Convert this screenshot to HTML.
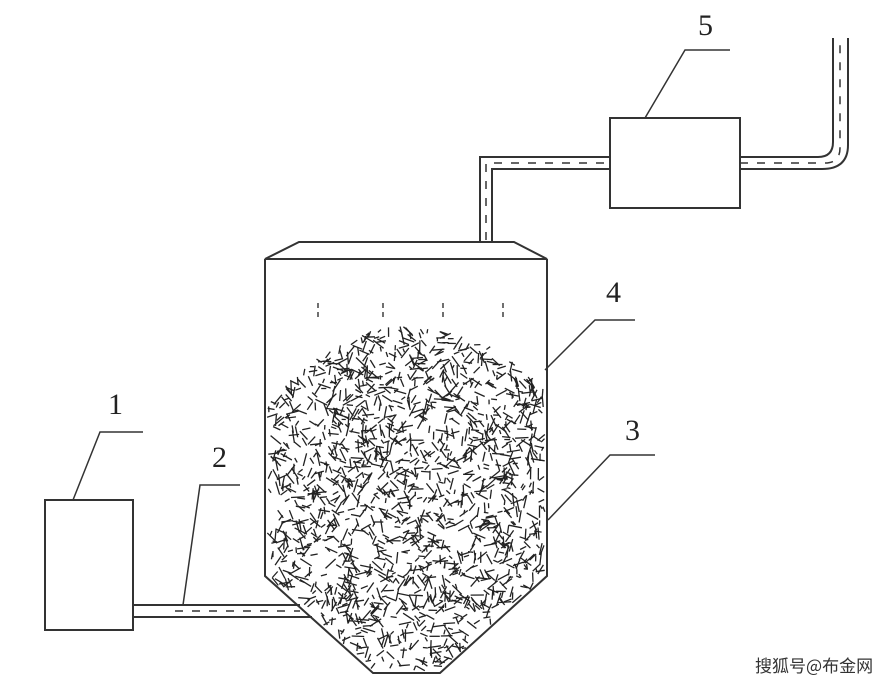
<!DOCTYPE html>
<html><head><meta charset="utf-8"><style>
html,body{margin:0;padding:0;background:#fff;}
svg{display:block;}
text{font-family:"Liberation Serif",serif;font-size:30px;fill:#222;}
</style></head><body>
<svg id="s" width="896" height="683" viewBox="0 0 896 683" xmlns="http://www.w3.org/2000/svg">
<g fill="none" stroke="#333" stroke-width="2">
<rect x="45" y="500" width="88" height="130"/>
<rect x="610" y="118" width="130" height="90"/>
<path d="M265,259 L299,242 L514,242 L547,259 Z"/>
<path d="M265,259 L265,576 L373,673 L440,673 L547,576 L547,259"/>
<path d="M133,605 L300,605 M133,617 L312,617"/>
<path d="M480,242 L480,157 L610,157 M492,242 L492,169 L610,169"/>
<path d="M740,157 L818,157 Q833,157 833,142 L833,38 M740,169 L822,169 Q848,169 848,145 L848,38"/>
<path d="M143,432 L100,432 L73,500 M240,485 L200,485 L183,605 M655,455 L610,455 L548,520 M635,320 L595,320 L545,370 M730,50 L685,50 L645,118" stroke-width="1.5"/>
</g>
<g fill="none" stroke="#333" stroke-width="1.5" stroke-dasharray="8,9">
<path d="M175,611 L300,611"/>
<path d="M486,240 L486,163 L610,163"/>
<path d="M740,163 L825,163 Q840,163 840,148 L840,40"/>
</g>
<g id="f" stroke="#222" stroke-width="1.3"></g>
<text x="108" y="414">1</text>
<text x="212" y="467">2</text>
<text x="625" y="440">3</text>
<text x="606" y="302">4</text>
<text x="698" y="35">5</text>
<text x="755" y="672" style="font-family:'Noto Sans CJK SC',sans-serif;font-size:17px;fill:#333">搜狐号@布金网</text>
</svg>
<script>
var g=document.getElementById('f'),s=12345;
function r(){s=(s*16807)%2147483647;return s/2147483647;}
function inside(x,y){
 if(x<267||x>545||y>671)return false;
 var top;
 if(x<410) top=325+ (410-x)*(410-x)/140*0.54; else top=325+(x-410)*(x-410)/140*0.47;
 if(y<top)return false;
 if(y>576){ if(x<265+(y-576)*108/97+2||x>547-(y-576)*107/97-2)return false;}
 return true;}
var h='';
for(var i=0;i<2200;i++){
 var x=265+r()*282,y=320+r()*352;
 if(!inside(x,y))continue;
 var a=r()*Math.PI,l=4+r()*10,dx=Math.cos(a)*l/2,dy=Math.sin(a)*l/2;
 if(!inside(x+dx,y+dy)||!inside(x-dx,y-dy))continue;
 h+='<line x1="'+(x-dx).toFixed(1)+'" y1="'+(y-dy).toFixed(1)+'" x2="'+(x+dx).toFixed(1)+'" y2="'+(y+dy).toFixed(1)+'"/>';
}
[318,383,443,503].forEach(function(x){h+='<line x1="'+x+'" y1="303" x2="'+x+'" y2="320" stroke-dasharray="5,4"/>';});
g.innerHTML=h;
</script>
</body></html>
